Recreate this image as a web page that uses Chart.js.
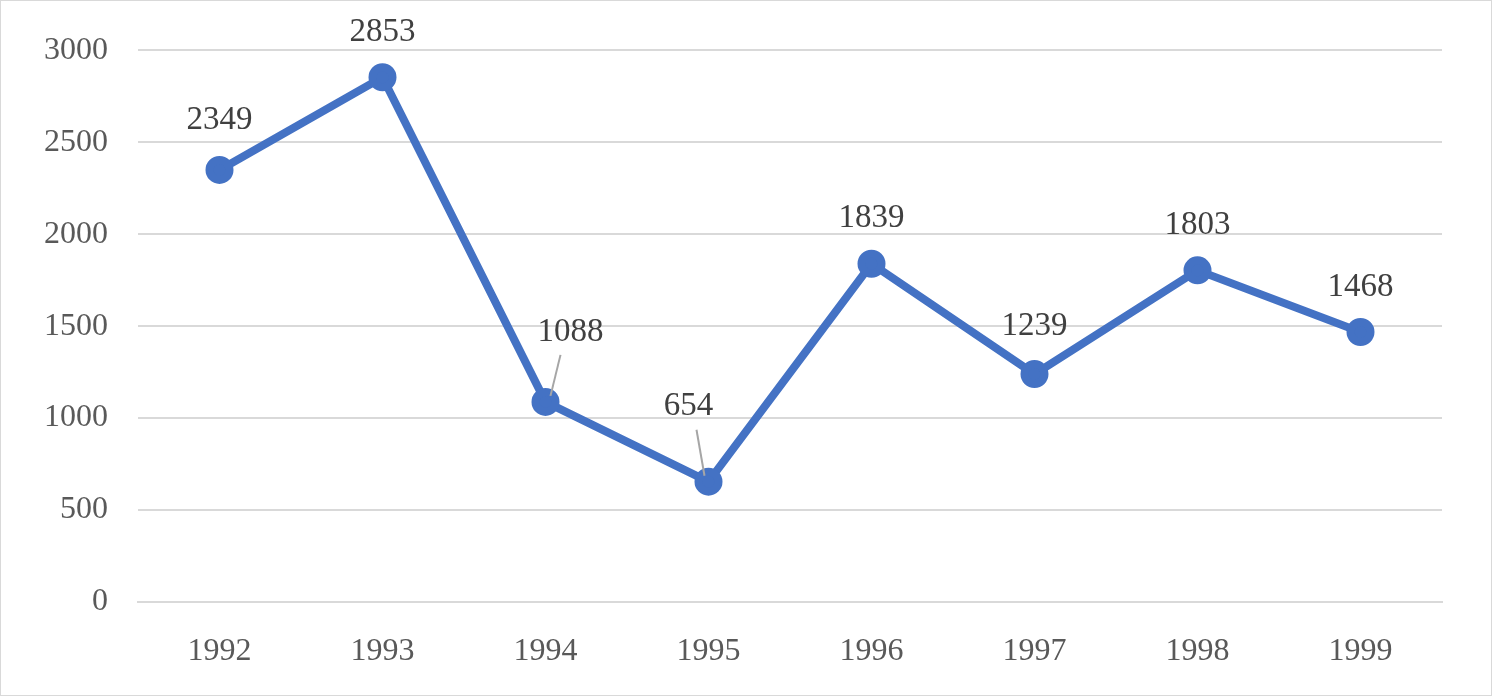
<!DOCTYPE html>
<html>
<head>
<meta charset="UTF-8" />
<script src="https://cdn.jsdelivr.net/npm/chart.js"></script>
<style>
  body { margin: 0; background: #fff; }
  .wrap { width: 1492px; height: 696px; box-sizing: border-box; border: 1px solid #d9d9d9; }
</style>
</head>
<body>
<div class="wrap"><canvas id="c" width="1490" height="694"></canvas></div>
<script>
const years = ["1992", "1993", "1994", "1995", "1996", "1997", "1998", "1999"];
const values = [2349, 2853, 1088, 654, 1839, 1239, 1803, 1468];
const yTicks = [0, 500, 1000, 1500, 2000, 2500, 3000];
// label offset from point (dx, dy), leader line if true
const labelShift = [[0, -50, false], [0, -45, false], [25, -70, true], [-20, -75, true], [0, -45, false], [0, -48, false], [0, -45, false], [0, -45, false]];

const labelPlugin = {
  id: "labels",
  afterDatasetsDraw(chart) {
    const ctx = chart.ctx;
    const pts = chart.getDatasetMeta(0).data;
    ctx.save();
    ctx.font = "33px 'Liberation Serif'";
    ctx.fillStyle = "#404040";
    ctx.textAlign = "center";
    ctx.textBaseline = "middle";
    pts.forEach((p, i) => {
      const [dx, dy, lead] = labelShift[i];
      if (lead) {
        ctx.strokeStyle = "#a6a6a6";
        ctx.lineWidth = 2;
        ctx.beginPath();
        ctx.moveTo(p.x + dx * 0.2, p.y - 6);
        ctx.lineTo(p.x + dx * 0.6, p.y + dy + 23);
        ctx.stroke();
      }
      ctx.fillText(values[i], p.x + dx, p.y + dy);
    });
    ctx.restore();
  }
};

new Chart(document.getElementById("c"), {
  type: "line",
  data: {
    labels: years,
    datasets: [{
      data: values,
      borderColor: "#4472c4",
      backgroundColor: "#4472c4",
      borderWidth: 8,
      pointRadius: 10,
      tension: 0
    }]
  },
  options: {
    responsive: false,
    animation: false,
    layout: { padding: { top: 49, right: 49, left: 0, bottom: 0 } },
    plugins: { legend: { display: false }, tooltip: { enabled: false } },
    scales: {
      x: {
        offset: true,
        grid: { display: false },
        border: { color: "#d9d9d9", width: 2 },
        ticks: { color: "#595959", font: { family: "Liberation Serif", size: 32 }, padding: 22 },
        afterFit: (s) => { s.height = 93; }
      },
      y: {
        min: 0, max: 3000,
        afterBuildTicks: (s) => { s.ticks = yTicks.map((v) => ({ value: v })); },
        grid: { color: "#d9d9d9", lineWidth: 2, drawTicks: false },
        border: { display: false },
        ticks: { color: "#595959", font: { family: "Liberation Serif", size: 32 }, padding: 30, callback: (v) => String(v) },
        afterFit: (s) => { s.width = 137; }
      }
    }
  },
  plugins: [labelPlugin]
});
</script>
</body>
</html>
